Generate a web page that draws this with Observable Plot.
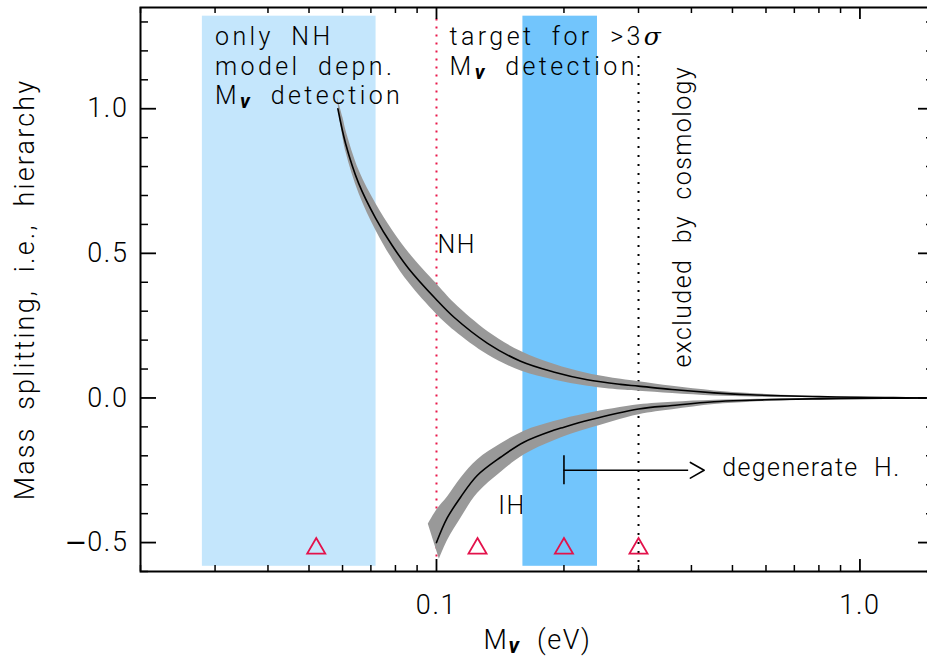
<!DOCTYPE html>
<html><head><meta charset="utf-8">
<script src="https://cdn.jsdelivr.net/npm/d3@7"></script>
<script src="https://cdn.jsdelivr.net/npm/@observablehq/plot@0.6"></script>
<style>
html,body{margin:0;padding:0;background:#fff;overflow:hidden;}
#chart svg{overflow:hidden;display:block;}
</style></head><body><div id="chart"></div>
<script>
// ---- data ----
const xMajorTicks = [0.1, 1];
const xMinorTicks = [0.02,0.03,0.04,0.05,0.06,0.07,0.08,0.09,0.2,0.3,0.4,0.5,0.6,0.7,0.8,0.9];
const yMajorTicks = [-0.5, 0, 0.5, 1];
const yMinorTicks = [-0.6,-0.4,-0.3,-0.2,-0.1,0.1,0.2,0.3,0.4,0.6,0.7,0.8,0.9,1.1,1.2,1.3];

const bandLo = [0.028, 0.16];
const bandHi = [0.072, 0.24];
const bandBottom = -0.582, bandTop = 1.32;

const limitX = [0.1, 0.3];
const limitLo = [-0.55, -0.6];
const limitHi = [1.32, 1.2];

const triangleX = [0.052, 0.125, 0.2, 0.3];
const triangleY = [-0.52, -0.52, -0.52, -0.52];

// NH centre line
const nhX = [0.0585,0.061,0.0655,0.0718,0.0786,0.086,0.0995,0.11,0.132,0.158,0.189,0.227,0.272,0.30,0.36,0.452,0.55,0.65,0.8,1.0,1.2,1.43];
const nhY = [1.0,0.88,0.742,0.622,0.527,0.447,0.343,0.279,0.189,0.127,0.090,0.063,0.047,0.041,0.029,0.0175,0.011,0.0075,0.0045,0.0025,0.0012,0];
// NH uncertainty band edges
const nhUpX = [0.0582,0.0600,0.061,0.0655,0.0718,0.0786,0.086,0.0995,0.11,0.132,0.158,0.189,0.227,0.272,0.30,0.36,0.452,0.55,0.65,0.8,1.0,1.2,1.43];
const nhUpY = [1.04,0.97,0.925,0.787,0.672,0.58,0.502,0.398,0.329,0.231,0.162,0.118,0.086,0.066,0.058,0.042,0.026,0.017,0.0115,0.007,0.004,0.002,0];
const nhLoX = [0.0588,0.061,0.0655,0.0718,0.0786,0.086,0.0995,0.11,0.132,0.158,0.189,0.227,0.272,0.30,0.36,0.452,0.55,0.65,0.8,1.0,1.2,1.43];
const nhLoY = [0.98,0.85,0.707,0.58,0.48,0.398,0.293,0.234,0.150,0.095,0.064,0.042,0.029,0.025,0.017,0.0085,0.005,0.003,0.0015,0.0008,0.0003,0];

// IH centre line
const ihX = [0.1,0.106,0.114,0.1248,0.1417,0.1608,0.189,0.2,0.227,0.30,0.36,0.452,0.55,0.65,0.8,1.0,1.2,1.43];
const ihY = [-0.5,-0.415,-0.343,-0.268,-0.205,-0.153,-0.112,-0.101,-0.078,-0.038,-0.026,-0.013,-0.008,-0.005,-0.003,-0.0015,-0.0007,0];
// IH uncertainty band edges
const ihUpX = [0.0954,0.1,0.106,0.114,0.1248,0.1417,0.1608,0.189,0.227,0.30,0.36,0.452,0.55,0.65,0.8,1.0,1.43];
const ihUpY = [-0.435,-0.385,-0.34,-0.275,-0.212,-0.157,-0.113,-0.080,-0.052,-0.022,-0.013,-0.006,-0.0035,-0.002,-0.001,-0.0005,0];
const ihLoX = [0.1013,0.106,0.114,0.1248,0.1417,0.1608,0.189,0.227,0.30,0.36,0.452,0.55,0.65,0.8,1.0,1.2,1.43];
const ihLoY = [-0.556,-0.49,-0.413,-0.328,-0.255,-0.195,-0.146,-0.106,-0.056,-0.039,-0.021,-0.013,-0.0085,-0.0055,-0.003,-0.0015,0];

// degenerate-hierarchy marker
const degenX = [0.2, 0.394];
const degenBarY = [-0.2, -0.3];
const degenY = -0.25;
const chevronX = [0.3977, 0.4286, 0.3977];
const chevronY = [-0.223, -0.25, -0.277];

// ---- build ----
const W = 927, H = 658;
const mL = 140, mR = -7, mT = 7, mB = 87;
const innerW = W - mL - mR, innerH = H - mT - mB;
const pts = (xs, ys) => xs.map((x, i) => ({x, y: ys[i]}));
const polygon = (ux, uy, lx, ly) => pts(ux, uy).concat(pts(lx, ly).reverse());
const font = "Roboto, 'DejaVu Sans', sans-serif";
const annot = {fontSize: 25, fill: "black", fontWeight: 300, textAnchor: "start", lineAnchor: "bottom"};
const minus = f => d => f(d).replace(/[-\u2212]/g, "\u2212");

const bands = bandLo.map((lo, i) => ({lo, hi: bandHi[i], i}));

const plot = Plot.plot({
  width: W, height: H,
  marginLeft: mL, marginRight: mR, marginTop: mT, marginBottom: mB,
  style: {fontFamily: font, background: "white", overflow: "hidden"},
  x: {type: "log", domain: [0.02, 1.5]},
  y: {domain: [-0.6, 1.35]},
  marks: [
    Plot.rect(bands, {x1: "lo", x2: "hi", y1: () => bandBottom, y2: () => bandTop,
      fill: d => d.i === 0 ? "#c4e6fc" : "#72c5fc"}),
    Plot.ruleX([limitX[0]], {y1: [limitLo[0]], y2: [limitHi[0]], stroke: "#e8174a", strokeWidth: 2, strokeDasharray: "2,6"}),
    Plot.ruleX([limitX[1]], {y1: [limitLo[1]], y2: [limitHi[1]], stroke: "black", strokeWidth: 2, strokeDasharray: "2,7"}),
    Plot.line(polygon(nhUpX, nhUpY, nhLoX, nhLoY), {x: "x", y: "y", fill: "#999999", stroke: "none", curve: "catmull-rom"}),
    Plot.line(polygon(ihUpX, ihUpY, ihLoX, ihLoY), {x: "x", y: "y", fill: "#999999", stroke: "none", curve: "catmull-rom"}),
    Plot.line(pts(nhX, nhY), {x: "x", y: "y", stroke: "black", strokeWidth: 1.6, curve: "catmull-rom"}),
    Plot.line(pts(ihX, ihY), {x: "x", y: "y", stroke: "black", strokeWidth: 1.6, curve: "catmull-rom"}),
    Plot.dot(pts(triangleX, triangleY), {x: "x", y: "y", symbol: "triangle", r: 6.7, stroke: "#e3124b", strokeWidth: 1.8, fill: "none"}),
    // degenerate H. marker
    Plot.ruleX([degenX[0]], {y1: [degenBarY[0]], y2: [degenBarY[1]], stroke: "black", strokeWidth: 1.6}),
    Plot.ruleY([degenY], {x1: [degenX[0]], x2: [degenX[1]], stroke: "black", strokeWidth: 1.6}),
    Plot.line(pts(chevronX, chevronY), {x: "x", y: "y", stroke: "black", strokeWidth: 1.6}),
    // ticks (inward)
    Plot.ruleX(xMajorTicks, {insetTop: innerH - 12, strokeWidth: 1.8}),
    Plot.ruleX(xMinorTicks, {insetTop: innerH - 6, strokeWidth: 1.5}),
    Plot.ruleX(xMajorTicks, {insetBottom: innerH - 12, strokeWidth: 1.8}),
    Plot.ruleX(xMinorTicks, {insetBottom: innerH - 6, strokeWidth: 1.5}),
    Plot.ruleY(yMajorTicks, {insetRight: innerW - 16, strokeWidth: 1.8}),
    Plot.ruleY(yMinorTicks, {insetRight: innerW - 8, strokeWidth: 1.5}),
    Plot.ruleY(yMajorTicks, {insetLeft: innerW - 16, strokeWidth: 1.8}),
    Plot.ruleY(yMinorTicks, {insetLeft: innerW - 8, strokeWidth: 1.5}),
    Plot.frame({stroke: "black", strokeWidth: 2}),
    Plot.axisX({ticks: xMajorTicks, tickSize: 0, tickPadding: 23, tickFormat: d => d.toFixed(1), fontSize: 27, fontWeight: 300, label: null}),
    Plot.axisY({ticks: yMajorTicks, tickSize: 0, tickPadding: 12, tickFormat: minus(d3.format(".1f")), fontSize: 27, fontWeight: 300, label: null}),
    // axis titles
    Plot.text(["Mass splitting, i.e., hierarchy"], {frameAnchor: "left", dx: -107, rotate: -90, textAnchor: "middle", lineAnchor: "bottom", fontSize: 27, fontWeight: 300, text: d => d, className: "ytitle"}),
    Plot.text(["Mν (eV)"], {frameAnchor: "bottom", dy: 77, textAnchor: "middle", lineAnchor: "bottom", fontSize: 27, fontWeight: 300, text: d => d, className: "xtitle"}),
    // annotations
    Plot.text([{x: 0.03, y: 1.219, t: "only NH"}, {x: 0.03, y: 1.118, t: "model depn."}, {x: 0.03, y: 1.018, t: "Mν detection"}], {x: "x", y: "y", text: "t", ...annot, className: "wide"}),
    Plot.text([{x: 0.1074, y: 1.219, t: "target for >3σ"}, {x: 0.1074, y: 1.118, t: "Mν detection"}], {x: "x", y: "y", text: "t", ...annot, className: "wide"}),
    Plot.text([{x: 0.1006, y: 0.5, t: "NH"}, {x: 0.14, y: -0.4, t: "IH"}], {x: "x", y: "y", text: "t", ...annot, className: "tight"}),
    Plot.text([{x: 0.473, y: -0.27, t: "degenerate H."}], {x: "x", y: "y", text: "t", ...annot, className: "narrow"}),
    Plot.text([{x: 0.4, y: 0.105, t: "excluded by cosmology"}], {x: "x", y: "y", text: "t", rotate: -90, ...annot, className: "narrow"})
  ]
});

// Greek letters: nu as subscript italic, sigma italic; wide minus sign
const ns = "http://www.w3.org/2000/svg";
d3.select(plot).selectAll("text").each(function() {
  const el = this;
  if (el.querySelector("tspan")) return;
  const s = el.textContent;
  if (!/[νσ\u2212-]/.test(s)) return;
  el.textContent = "";
  let buf = "";
  const flush = () => { if (buf) { const t = document.createElementNS(ns, "tspan"); t.textContent = buf; el.appendChild(t); buf = ""; } };
  let shiftBack = false;
  for (const ch of s) {
    if (ch === "ν") {
      flush();
      const t = document.createElementNS(ns, "tspan");
      t.setAttribute("dy", "4");
      t.setAttribute("font-style", "italic");
      t.setAttribute("font-weight", "bold");
      t.setAttribute("font-size", "80%");
      t.textContent = ch;
      el.appendChild(t);
      shiftBack = true;
    } else if (ch === "σ") {
      flush();
      const t = document.createElementNS(ns, "tspan");
      t.setAttribute("font-style", "italic");
      t.setAttribute("font-family", "'DejaVu Serif', serif");
      t.textContent = ch;
      el.appendChild(t);
    } else if (ch === "\u2212" || ch === "-") {
      flush();
      const t = document.createElementNS(ns, "tspan");
      t.setAttribute("font-family", "'DejaVu Sans', sans-serif");
      t.setAttribute("font-weight", "normal");
      t.style.letterSpacing = "0";
      t.textContent = "\u2212";
      el.appendChild(t);
    } else {
      if (shiftBack) {
        const t = document.createElementNS(ns, "tspan");
        t.setAttribute("dy", "-4");
        t.textContent = ch;
        el.appendChild(t);
        shiftBack = false;
      } else buf += ch;
    }
  }
  flush();
});
const sel = d3.select(plot);
sel.selectAll("g[aria-label='x-axis tick label'] text, g[aria-label='y-axis tick label'] text").style("letter-spacing", "0.06em");
sel.selectAll(".wide text").style("letter-spacing", "0.135em").style("word-spacing", "8px");
sel.selectAll(".tight text").style("letter-spacing", "0.06em");
sel.selectAll(".narrow text").style("letter-spacing", "0.055em").style("word-spacing", "8px");
sel.selectAll(".ytitle text").style("letter-spacing", "0.08em").style("word-spacing", "8px");
sel.selectAll(".xtitle text").style("letter-spacing", "0.06em").style("word-spacing", "8px");

document.getElementById("chart").appendChild(plot);
</script></body></html>
